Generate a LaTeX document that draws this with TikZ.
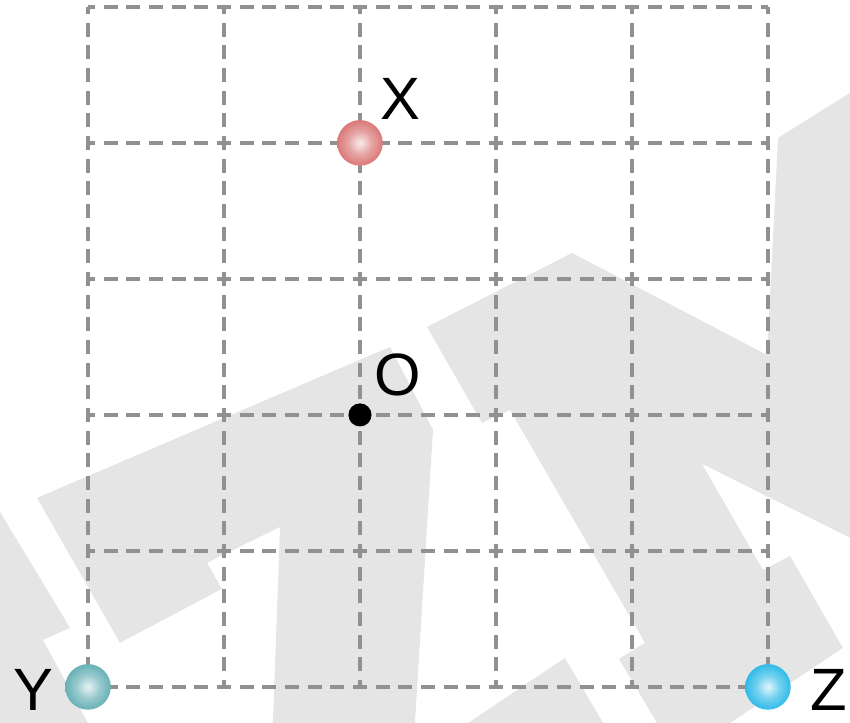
\documentclass[tikz,border=0pt]{standalone}
\usepackage{fontspec}
\setmainfont{Liberation Sans}
\usepackage{tikz}
\usepackage{xcolor}

\definecolor{ballred}{RGB}{210,88,88}
\definecolor{ballteal}{RGB}{68,158,166}
\definecolor{ballblue}{RGB}{0,170,226}
\pgfdeclareradialshading{redshade}{\pgfpoint{0bp}{0bp}}{color(0bp)=(ballred!12!white); color(13bp)=(ballred!55!white); color(34bp)=(ballred); color(50bp)=(ballred)}
\pgfdeclareradialshading{tealshade}{\pgfpoint{0bp}{0bp}}{color(0bp)=(ballteal!12!white); color(13bp)=(ballteal!55!white); color(34bp)=(ballteal); color(50bp)=(ballteal)}
\pgfdeclareradialshading{blueshade}{\pgfpoint{0bp}{0bp}}{color(0bp)=(ballblue!12!white); color(13bp)=(ballblue!55!white); color(34bp)=(ballblue); color(50bp)=(ballblue)}

\begin{document}
\begin{tikzpicture}[scale = 1]
    \tikzstyle{backdrop}=[fill=black!10,draw=none]
    \tikzstyle{gridline}=[draw,line width = .75pt,black!43,dash pattern=on 2.9pt off 1.842pt,dash phase=1.45pt]
    \tikzstyle{ball}=[circle,shade,inner sep=0pt,minimum size=0.335cm]
    \tikzstyle{origin}=[circle,fill=black,inner sep=0pt,minimum size=0.17cm]
    \tikzstyle{letter}=[inner sep=0pt,font=\fontsize{12.5}{14}\selectfont]
    \useasboundingbox (-0.647,-0.265) rectangle (5.603,5.051);
    % watermark
    \fill[backdrop] (-0.375,1.390) -- (2.221,2.500) -- (2.537,1.890) -- (2.404,-0.265) -- (1.360,-0.265) -- (1.412,1.176) -- (0.875,0.912) -- (0.985,0.721) -- (0.235,0.324) -- cycle;
    \fill[backdrop] (-0.647,1.287) -- (-0.132,0.434) -- (-0.331,0.346) -- (0,-0.265) -- (-0.647,-0.265) -- cycle;
    \fill[backdrop] (2.493,2.647) -- (3.559,3.191) -- (4.993,2.441) -- (5.074,4.037) -- (5.603,4.368) -- (5.603,1.096) -- (4.515,1.640) -- (4.963,0.860) -- (5.162,0.963) -- (5.551,0.287) -- (4.721,-0.265) -- (4.184,-0.265) -- (3.904,0.206) -- (4.096,0.324) -- (3.103,2.037) -- (2.897,1.941) -- cycle;
    \fill[backdrop] (2.794,-0.265) -- (3.507,0.213) -- (3.787,-0.265) -- cycle;
    % grid
    \draw[gridline] (0,0) grid (5,5);
    % points
    \node[ball,shading=redshade] (X) at (2,4) {};
    \node[ball,shading=tealshade] (Y) at (0,0) {};
    \node[ball,shading=blueshade] (Z) at (5,0) {};
    \node[origin] (O) at (2,2) {};
    \node[letter] (lX) at (2.301,4.324) {X};
    \node[letter] (lO) at (2.28,2.294) {O};
    \node[letter] (lY) at (-0.404,-0.022) {Y};
    \node[letter] (lZ) at (5.449,-0.022) {Z};
\end{tikzpicture}
\end{document}
